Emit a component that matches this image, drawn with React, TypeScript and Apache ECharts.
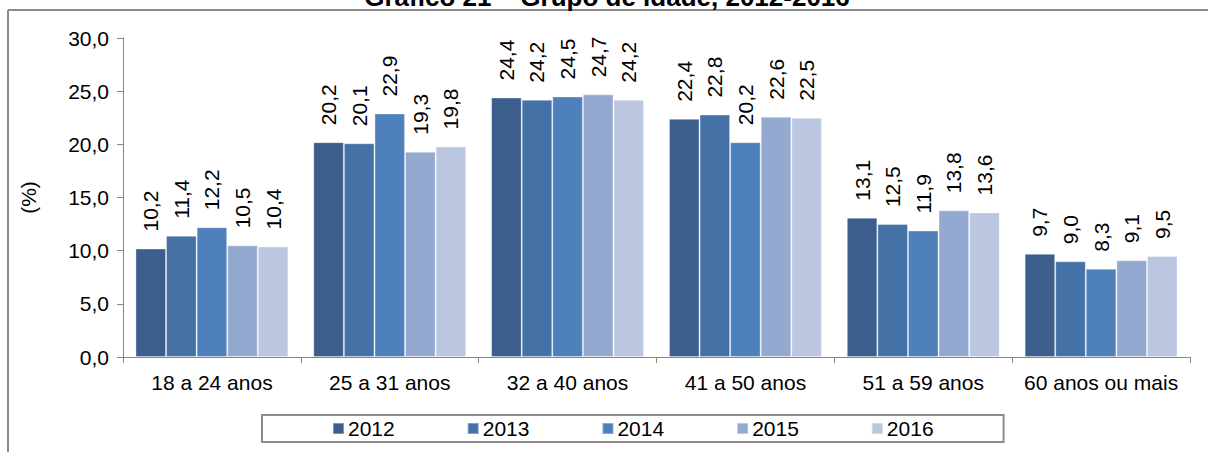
import React, { useEffect, useRef } from "react";
import * as echarts from "echarts";

const categories = ["18 a 24 anos", "25 a 31 anos", "32 a 40 anos", "41 a 50 anos", "51 a 59 anos", "60 anos ou mais"];
const years = ["2012", "2013", "2014", "2015", "2016"];
const v2012 = [10.2, 20.2, 24.4, 22.4, 13.1, 9.7];
const v2013 = [11.4, 20.1, 24.2, 22.8, 12.5, 9.0];
const v2014 = [12.2, 22.9, 24.5, 20.2, 11.9, 8.3];
const v2015 = [10.5, 19.3, 24.7, 22.6, 13.8, 9.1];
const v2016 = [10.4, 19.8, 24.2, 22.5, 13.6, 9.5];
const seriesValues = [v2012, v2013, v2014, v2015, v2016];
const colors = ["#3B5E8C", "#4471A6", "#4E80BC", "#94A9D0", "#BBC7E1"];
const titleText = "Gráfico 21 – Grupo de idade, 2012-2016";

const FONT = "'Liberation Sans', Arial, sans-serif";
const fmt = (v: number) => v.toFixed(1).replace(".", ",");

export default function App() {
  const ref = useRef<HTMLDivElement>(null);
  useEffect(() => {
    document.body.style.margin = "0";
    if (!ref.current) return;
    const chart = echarts.init(ref.current, null, { renderer: "svg" });
    chart.setOption({
      animation: false,
      backgroundColor: "#fff",
      textStyle: { fontFamily: FONT, color: "#000" },
      graphic: [
        { type: "line", shape: { x1: 8, y1: 10, x2: 1208, y2: 10 }, style: { stroke: "#8c8c8c", lineWidth: 2 }, z: 0 },
        { type: "line", shape: { x1: 8, y1: 10, x2: 8, y2: 452 }, style: { stroke: "#8c8c8c", lineWidth: 2 }, z: 0 },
        {
          type: "text",
          x: 607,
          y: 10,
          style: { text: titleText, font: `bold 26px ${FONT}`, fill: "#000", textAlign: "center", textVerticalAlign: "bottom" },
          z: 10,
        },
      ],
      grid: { left: 123, right: 18, top: 38, bottom: 95 },
      legend: {
        data: years,
        left: 262,
        top: 415,
        padding: [3, 70, 3, 70],
        itemGap: 72,
        itemWidth: 11,
        itemHeight: 11,
        icon: "rect",
        borderColor: "#8c8c8c",
        borderWidth: 2,
        textStyle: { fontFamily: FONT, fontSize: 21, color: "#000", padding: [0, 0, 0, -1] },
      },
      xAxis: {
        type: "category",
        data: categories,
        axisLine: { lineStyle: { color: "#868686", width: 1 } },
        axisTick: { show: true, length: 6, lineStyle: { color: "#868686" } },
        axisLabel: { fontFamily: FONT, fontSize: 21, color: "#000", margin: 15, interval: 0 },
      },
      yAxis: {
        type: "value",
        min: 0,
        max: 30,
        interval: 5,
        name: "(%)",
        nameLocation: "middle",
        nameRotate: 90,
        nameGap: 84,
        nameTextStyle: { fontFamily: FONT, fontSize: 21, color: "#000" },
        axisLine: { show: true, lineStyle: { color: "#868686", width: 1 } },
        axisTick: { show: true, length: 6, lineStyle: { color: "#868686" } },
        splitLine: { show: false },
        axisLabel: { fontFamily: FONT, fontSize: 21, color: "#000", margin: 14, formatter: (v: number) => fmt(v) },
      },
      series: years.map((y, i) => ({
        name: y,
        type: "bar",
        data: seriesValues[i],
        barGap: "0%",
        barCategoryGap: "14%",
        itemStyle: { color: colors[i], borderColor: "rgba(255,255,255,0.35)", borderWidth: 1 },
        label: {
          show: true,
          position: "top",
          rotate: 90,
          align: "left",
          verticalAlign: "middle",
          distance: 17,
          fontFamily: FONT,
          fontSize: 21,
          color: "#000",
          formatter: (p: any) => fmt(p.value),
        },
      })),
    });
    return () => chart.dispose();
  }, []);
  return <div ref={ref} style={{ width: 1208, height: 452 }} />;
}
